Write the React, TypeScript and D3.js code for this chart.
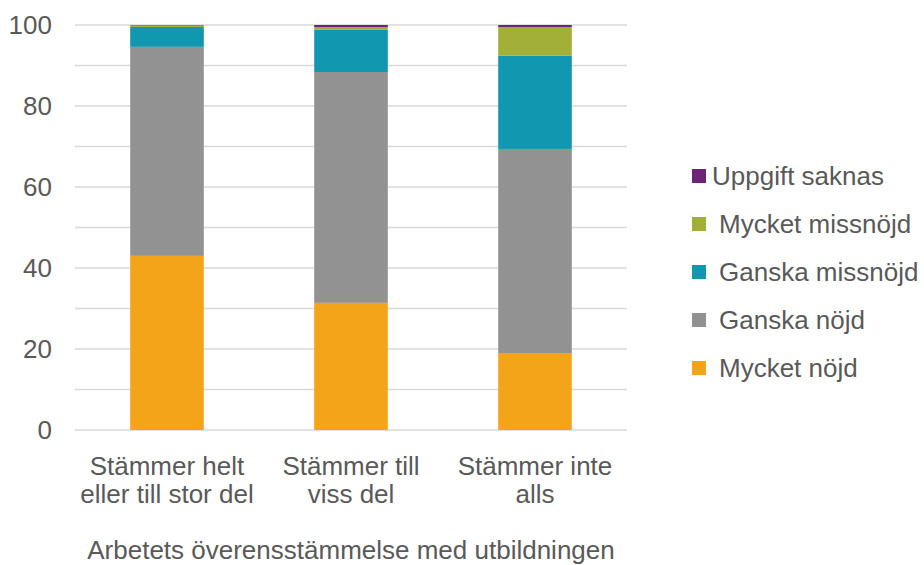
import React from 'react';
import * as d3 from 'd3';

const categories = ['Stämmer helt|eller till stor del', 'Stämmer till|viss del', 'Stämmer inte|alls'];
const seriesNames = ['Mycket nöjd', 'Ganska nöjd', 'Ganska missnöjd', 'Mycket missnöjd', 'Uppgift saknas'];
const colors = ['#F4A418', '#929292', '#1197AF', '#A2B038', '#6F2377'];

const mycketNojd = [43.0, 31.4, 19.0];
const ganskaNojd = [51.6, 57.0, 50.4];
const ganskaMissnojd = [4.9, 10.4, 23.0];
const mycketMissnojd = [0.4, 0.7, 7.1];
const uppgiftSaknas = [0.1, 0.5, 0.5];

const yTicks = [0, 20, 40, 60, 80, 100];
const gridValues = [0, 10, 20, 30, 40, 50, 60, 70, 80, 90, 100];
const axisTitle = 'Arbetets överensstämmelse med utbildningen';

const W = 924;
const H = 565;
const margin = { top: 25, left: 75, right: 297, bottom: 135 };

export default function App() {
  const iw = W - margin.left - margin.right;
  const ih = H - margin.top - margin.bottom;

  const rows = categories.map((c, i) => ({
    cat: c,
    'Mycket nöjd': mycketNojd[i],
    'Ganska nöjd': ganskaNojd[i],
    'Ganska missnöjd': ganskaMissnojd[i],
    'Mycket missnöjd': mycketMissnojd[i],
    'Uppgift saknas': uppgiftSaknas[i],
  }));

  const stacked = d3.stack<any>().keys(seriesNames)(rows);

  const x = d3.scaleBand().domain(categories).range([0, iw]).paddingInner(0.6).paddingOuter(0.3);
  const y = d3.scaleLinear().domain([0, 100]).range([ih, 0]);

  const font = "'Liberation Sans', Arial, sans-serif";
  const textColor = '#595959';
  const fs = 26;

  const legendOrder = [...seriesNames].reverse();

  return (
    <svg width={W} height={H} style={{ position: 'absolute', left: 0, top: 0, background: '#fff' }} fontFamily={font}>
      <g transform={`translate(${margin.left},${margin.top})`}>
        {gridValues.map((v) => (
          <line key={v} x1={0} x2={iw} y1={y(v)} y2={y(v)} stroke="#D9D9D9" strokeWidth={1.5} />
        ))}
        {stacked.map((s, si) => (
          <g key={s.key} fill={colors[si]}>
            {s.map((d, i) => (
              <rect
                key={i}
                x={x(categories[i])}
                y={y(d[1])}
                width={x.bandwidth()}
                height={Math.max(0, y(d[0]) - y(d[1]))}
              />
            ))}
          </g>
        ))}
        {yTicks.map((t) => (
          <text key={t} x={-23} y={y(t)} dy="0.35em" textAnchor="end" fontSize={fs} fill={textColor}>
            {t}
          </text>
        ))}
        {categories.map((c) => (
          <text key={c} textAnchor="middle" fontSize={fs} fill={textColor}>
            {c.split('|').map((line, li) => (
              <tspan key={li} x={(x(c) ?? 0) + x.bandwidth() / 2} y={ih + 45 + li * 28}>
                {line}
              </tspan>
            ))}
          </text>
        ))}
        <text x={iw / 2} y={ih + 129} textAnchor="middle" fontSize={fs} fill={textColor}>
          {axisTitle}
        </text>
      </g>
      <g transform="translate(692,176)">
        {legendOrder.map((name, i) => (
          <g key={name} transform={`translate(0,${i * 48})`}>
            <rect x={0} y={-7} width={14} height={14} fill={colors[seriesNames.indexOf(name)]} />
            <text x={i === 0 ? 20 : 27} y={0} dy="0.35em" fontSize={fs} fill={textColor}>
              {name}
            </text>
          </g>
        ))}
      </g>
    </svg>
  );
}
